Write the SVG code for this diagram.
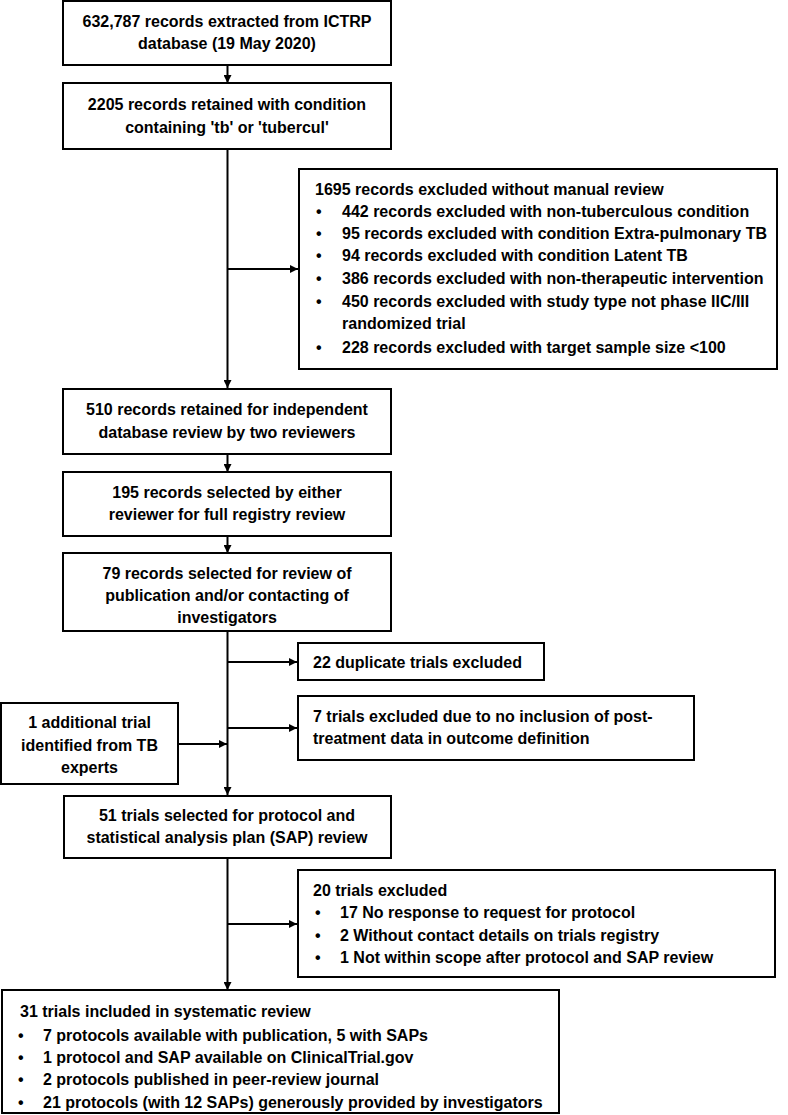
<svg xmlns="http://www.w3.org/2000/svg" width="788" height="1115" viewBox="0 0 788 1115">
<style>
.box{fill:#fff;stroke:#000;stroke-width:2}
text{font-family:"Liberation Sans",Arial,sans-serif;font-weight:bold;font-size:16px;fill:#000}
.c{text-anchor:middle}
.ln{stroke:#000;stroke-width:2;fill:none}
.ar{stroke:#000;stroke-width:2;fill:none;marker-end:url(#ah)}
</style>
<defs>
<marker id="ah" viewBox="0 0 10 10" refX="10" refY="5" markerWidth="8" markerHeight="8" markerUnits="userSpaceOnUse" orient="auto">
<path d="M0,0 L10,5 L0,10 z" fill="#000"/>
</marker>
</defs>
<rect width="788" height="1115" fill="#fff"/>
<g id="connectors">
<line class="ar" x1="227.5" y1="65" x2="227.5" y2="83"/>
<line class="ar" x1="227.5" y1="149" x2="227.5" y2="388"/>
<line class="ar" x1="227.5" y1="269" x2="298" y2="269"/>
<line class="ar" x1="227.5" y1="454" x2="227.5" y2="472"/>
<line class="ar" x1="227.5" y1="536" x2="227.5" y2="553"/>
<line class="ar" x1="227.5" y1="631" x2="227.5" y2="795"/>
<line class="ar" x1="227.5" y1="662" x2="297" y2="662"/>
<line class="ar" x1="227.5" y1="728" x2="297" y2="728"/>
<line class="ar" x1="178" y1="744" x2="227" y2="744"/>
<line class="ar" x1="227.5" y1="858" x2="227.5" y2="990"/>
<line class="ar" x1="227.5" y1="924" x2="297" y2="924"/>
</g>
<g id="n1">
<rect class="box" x="63" y="1" width="328" height="64"/>
<text class="c" x="227" y="27">632,787 records extracted from ICTRP</text>
<text class="c" x="227" y="49">database (19 May 2020)</text>
</g>
<g id="n2">
<rect class="box" x="63" y="83" width="328" height="66"/>
<text class="c" x="227" y="110">2205 records retained with condition</text>
<text class="c" x="227" y="133">containing 'tb' or 'tubercul'</text>
</g>
<g id="n3">
<rect class="box" x="299" y="169" width="478" height="200"/>
<text x="315" y="195">1695 records excluded without manual review</text>
<text x="316" y="217">•</text><text x="342" y="217">442 records excluded with non-tuberculous condition</text>
<text x="316" y="239">•</text><text x="342" y="239">95 records excluded with condition Extra-pulmonary TB</text>
<text x="316" y="261">•</text><text x="342" y="261">94 records excluded with condition Latent TB</text>
<text x="316" y="284">•</text><text x="342" y="284">386 records excluded with non-therapeutic intervention</text>
<text x="316" y="307">•</text><text x="342" y="307">450 records excluded with study type not phase IIC/III</text>
<text x="342" y="329">randomized trial</text>
<text x="316" y="353">•</text><text x="342" y="353">228 records excluded with target sample size &lt;100</text>
</g>
<g id="n4">
<rect class="box" x="63" y="389" width="328" height="65"/>
<text class="c" x="227" y="415">510 records retained for independent</text>
<text class="c" x="227" y="438">database review by two reviewers</text>
</g>
<g id="n5">
<rect class="box" x="63" y="472" width="328" height="64"/>
<text class="c" x="227" y="498">195 records selected by either</text>
<text class="c" x="227" y="520">reviewer for full registry review</text>
</g>
<g id="n6">
<rect class="box" x="63" y="553" width="328" height="78"/>
<text class="c" x="227" y="579">79 records selected for review of</text>
<text class="c" x="227" y="601">publication and/or contacting of</text>
<text class="c" x="227" y="623">investigators</text>
</g>
<g id="n7">
<rect class="box" x="298" y="643" width="246" height="37"/>
<text x="313" y="668">22 duplicate trials excluded</text>
</g>
<g id="n8">
<rect class="box" x="298" y="696" width="396" height="64"/>
<text x="313" y="722">7 trials excluded due to no inclusion of post-</text>
<text x="313" y="744">treatment data in outcome definition</text>
</g>
<g id="n9">
<rect class="box" x="1" y="703" width="177" height="81"/>
<text class="c" x="89.5" y="728">1 additional trial</text>
<text class="c" x="89.5" y="751">identified from TB</text>
<text class="c" x="89.5" y="773">experts</text>
</g>
<g id="n10">
<rect class="box" x="64" y="796" width="327" height="62"/>
<text class="c" x="227" y="821">51 trials selected for protocol and</text>
<text class="c" x="227" y="843">statistical analysis plan (SAP) review</text>
</g>
<g id="n11">
<rect class="box" x="298" y="870" width="477" height="107"/>
<text x="313" y="896">20 trials excluded</text>
<text x="315" y="918">•</text><text x="340" y="918">17 No response to request for protocol</text>
<text x="315" y="941">•</text><text x="340" y="941">2 Without contact details on trials registry</text>
<text x="315" y="963">•</text><text x="340" y="963">1 Not within scope after protocol and SAP review</text>
</g>
<g id="n12">
<rect class="box" x="2" y="990" width="557" height="123"/>
<text x="20" y="1017">31 trials included in systematic review</text>
<text x="18" y="1041">•</text><text x="43" y="1041">7 protocols available with publication, 5 with SAPs</text>
<text x="18" y="1063">•</text><text x="43" y="1063">1 protocol and SAP available on ClinicalTrial.gov</text>
<text x="18" y="1085">•</text><text x="43" y="1085">2 protocols published in peer-review journal</text>
<text x="18" y="1108">•</text><text x="43" y="1108">21 protocols (with 12 SAPs) generously provided by investigators</text>
</g>
</svg>
